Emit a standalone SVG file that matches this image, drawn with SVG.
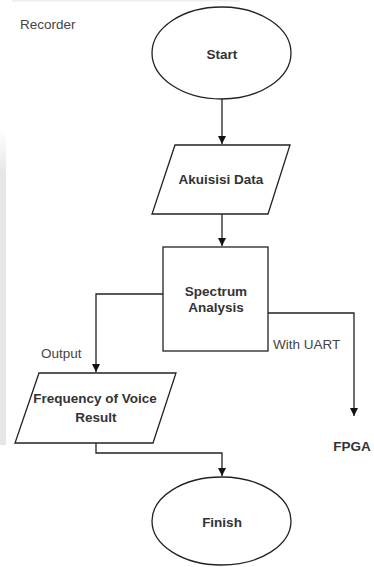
<svg xmlns="http://www.w3.org/2000/svg" width="374" height="567" viewBox="0 0 374 567">
  <style>
    .shape { fill: #ffffff; stroke: #222222; stroke-width: 1.3; }
    .edge { fill: none; stroke: #222222; stroke-width: 1.3; }
    .lbl { font-family: "Liberation Sans", Arial, sans-serif; font-size: 13.5px; font-weight: bold; fill: #333333; text-anchor: middle; }
    .note { font-family: "Liberation Sans", Arial, sans-serif; font-size: 13.5px; fill: #444444; }
  </style>
  <defs>
    <marker id="arr" markerWidth="10" markerHeight="10" refX="8" refY="5" orient="auto" markerUnits="userSpaceOnUse">
      <path d="M0,1 L8,5 L0,9 Z" fill="#111111"/>
    </marker>
    <linearGradient id="band" x1="0" y1="0" x2="0" y2="1">
      <stop offset="0" stop-color="#e6e6e8" stop-opacity="0"/>
      <stop offset="0.14" stop-color="#e6e6e8" stop-opacity="1"/>
      <stop offset="1" stop-color="#e6e6e8" stop-opacity="1"/>
    </linearGradient>
  </defs>
  <rect width="374" height="567" fill="#ffffff"/>
  <rect x="12" y="0" width="228" height="1.5" fill="#eeeeee"/>
  <rect x="0" y="130" width="6" height="315" fill="url(#band)"/>

  <text class="note" x="20" y="29">Recorder</text>

  <g id="connectors">
    <path class="edge" d="M222,99 L222,144" marker-end="url(#arr)"/>
    <path class="edge" d="M222,214 L222,246" marker-end="url(#arr)"/>
    <path class="edge" d="M163,294 L96,294 L96,372" marker-end="url(#arr)"/>
    <path class="edge" d="M268,313 L354,313 L354,416" marker-end="url(#arr)"/>
    <path class="edge" d="M96,443 L96,453 L222,453 L222,476" marker-end="url(#arr)"/>
    <text class="note" x="41" y="358">Output</text>
    <text class="note" x="273" y="349">With UART</text>
  </g>

  <g id="start">
    <ellipse class="shape" cx="221.5" cy="53" rx="69.5" ry="46"/>
    <text class="lbl" x="222" y="59">Start</text>
  </g>

  <g id="akuisisi">
    <polygon class="shape" points="175,145 290,145 268,214 152,214"/>
    <text class="lbl" x="221" y="184">Akuisisi Data</text>
  </g>

  <g id="spectrum">
    <rect class="shape" x="163" y="247" width="105" height="104"/>
    <text class="lbl" x="216" y="296">Spectrum</text>
    <text class="lbl" x="216" y="312">Analysis</text>
  </g>

  <g id="frequency">
    <polygon class="shape" points="39,373 176,373 153,443 15,443"/>
    <text class="lbl" x="95" y="403">Frequency of Voice</text>
    <text class="lbl" x="96" y="422">Result</text>
  </g>

  <g id="fpga">
    <text class="lbl" x="352" y="451">FPGA</text>
  </g>

  <g id="finish">
    <ellipse class="shape" cx="221.5" cy="521" rx="69.5" ry="44"/>
    <text class="lbl" x="222" y="527">Finish</text>
  </g>
</svg>
